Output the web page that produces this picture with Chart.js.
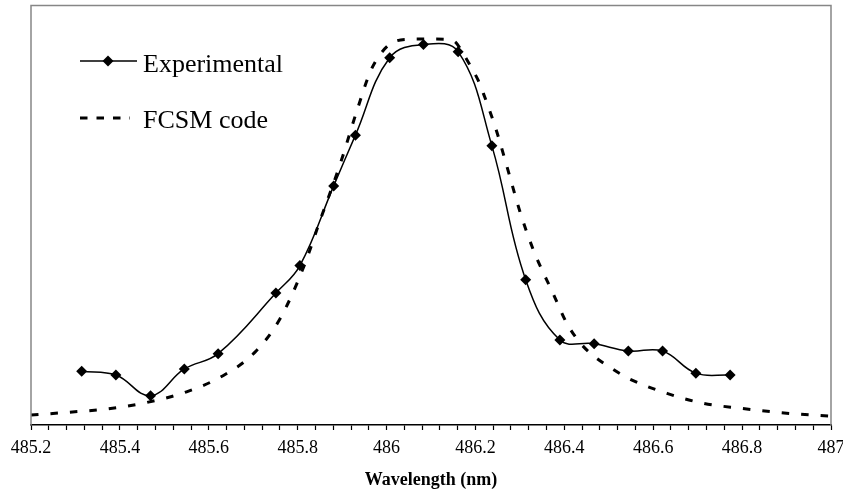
<!DOCTYPE html>
<html>
<head>
<meta charset="utf-8">
<script src="https://cdn.jsdelivr.net/npm/chart.js@4/dist/chart.umd.min.js"></script>
<style>
  html, body { margin: 0; padding: 0; background: #fff; }
  canvas { display: block; }
</style>
</head>
<body>
<canvas id="myChart" width="843" height="494"></canvas>
<script>
// experimental points
const expWavelength = [485.314, 485.391, 485.469, 485.545, 485.621, 485.751, 485.805, 485.881, 485.930, 486.007,
    486.083, 486.161, 486.237, 486.313, 486.390, 486.467, 486.544, 486.621, 486.696, 486.773];
const expIntensity = [0.141, 0.131, 0.077, 0.147, 0.187, 0.346, 0.418, 0.627, 0.760, 0.963,
    0.998, 0.979, 0.732, 0.381, 0.223, 0.213, 0.194, 0.194, 0.136, 0.131];

// FCSM code curve
const fcsmWavelength = [485.2, 485.28, 485.37, 485.46, 485.55, 485.633, 485.704, 485.76, 485.813, 485.85,
    485.895, 485.936, 485.963, 485.981, 486.008, 486.045, 486.09, 486.135, 486.155, 486.173,
    486.188, 486.206, 486.218, 486.233, 486.248, 486.274, 486.3, 486.33, 486.375, 486.406,
    486.435, 486.465, 486.503, 486.543, 486.631, 486.712, 486.795, 486.9, 487.0];
const fcsmIntensity = [0.026, 0.033, 0.042, 0.059, 0.087, 0.130, 0.191, 0.278, 0.413, 0.535,
    0.682, 0.834, 0.925, 0.964, 0.999, 1.011, 1.012, 1.011, 1.004, 0.973,
    0.943, 0.904, 0.869, 0.821, 0.769, 0.665, 0.56, 0.46, 0.344, 0.266,
    0.216, 0.182, 0.151, 0.123, 0.083, 0.057, 0.044, 0.031, 0.023];

const xMin = 485.2, xMax = 487, xStep = 0.04;
const seriesNames = ['Experimental', 'FCSM code'];
const axisTitle = 'Wavelength (nm)';

const serif = "'Liberation Serif', 'Times New Roman', serif";

function toPoints(xs, ys) {
    return xs.map((x, i) => ({ x: x, y: ys[i] }));
}

// gray box round the plot and the legend inside it
const frameAndLegend = {
    id: 'frameAndLegend',
    afterDraw(chart) {
        const c = chart.ctx;
        const a = chart.chartArea;
        c.save();
        c.strokeStyle = '#868686';
        c.lineWidth = 1.5;
        c.beginPath();
        c.moveTo(a.left, a.bottom);
        c.lineTo(a.left, a.top);
        c.lineTo(a.right, a.top);
        c.lineTo(a.right, a.bottom);
        c.stroke();

        // legend
        c.strokeStyle = '#000';
        c.fillStyle = '#000';
        c.lineWidth = 1.5;
        c.beginPath();
        c.moveTo(80, 61);
        c.lineTo(137, 61);
        c.stroke();
        c.beginPath();
        c.moveTo(108, 55.5);
        c.lineTo(113.5, 61);
        c.lineTo(108, 66.5);
        c.lineTo(102.5, 61);
        c.closePath();
        c.fill();

        c.lineWidth = 3;
        c.setLineDash([7.5, 9]);
        c.beginPath();
        c.moveTo(80, 118);
        c.lineTo(130, 118);
        c.stroke();
        c.setLineDash([]);

        c.font = '26px ' + serif;
        c.textBaseline = 'alphabetic';
        c.fillText(seriesNames[0], 143, 72);
        c.fillText(seriesNames[1], 143, 128);
        c.restore();
    }
};

new Chart(document.getElementById('myChart'), {
    type: 'line',
    data: {
        datasets: [{
            label: seriesNames[0],
            data: toPoints(expWavelength, expIntensity),
            borderColor: '#000',
            backgroundColor: '#000',
            borderWidth: 1.5,
            pointStyle: 'rectRot',
            pointRadius: 5.5,
            pointBorderWidth: 0,
            tension: 0.4,
            order: 0
        }, {
            label: seriesNames[1],
            data: toPoints(fcsmWavelength, fcsmIntensity),
            borderColor: '#000',
            borderWidth: 3,
            borderDash: [7.5, 12],
            pointRadius: 0,
            cubicInterpolationMode: 'monotone',
            order: 1
        }]
    },
    options: {
        responsive: false,
        animation: false,
        devicePixelRatio: 1,
        layout: { padding: { left: 31, right: 12, top: 3, bottom: 0 } },
        plugins: {
            legend: { display: false },
            tooltip: { enabled: false }
        },
        scales: {
            x: {
                type: 'linear',
                min: xMin,
                max: xMax,
                afterFit(scale) {
                    scale.height = 69;
                    scale.paddingLeft = 0;
                    scale.paddingRight = 0;
                },
                border: { color: '#000', width: 1.5 },
                grid: {
                    drawOnChartArea: false,
                    tickLength: 5,
                    tickColor: '#000',
                    tickWidth: 1.2
                },
                ticks: {
                    stepSize: xStep,
                    autoSkip: false,
                    maxRotation: 0,
                    padding: 7,
                    color: '#000',
                    font: { family: serif, size: 18 },
                    callback: function (v) {
                        const k = v / 0.2;
                        if (Math.abs(k - Math.round(k)) > 1e-6) return '';
                        return String(Number(v.toFixed(1)));
                    }
                },
                title: {
                    display: true,
                    text: axisTitle,
                    color: '#000',
                    font: { family: serif, size: 18, weight: 'bold' },
                    padding: { top: 0, bottom: 3 }
                }
            },
            y: {
                display: false,
                min: 0,
                max: 1.1
            }
        }
    },
    plugins: [frameAndLegend]
});
</script>
</body>
</html>
